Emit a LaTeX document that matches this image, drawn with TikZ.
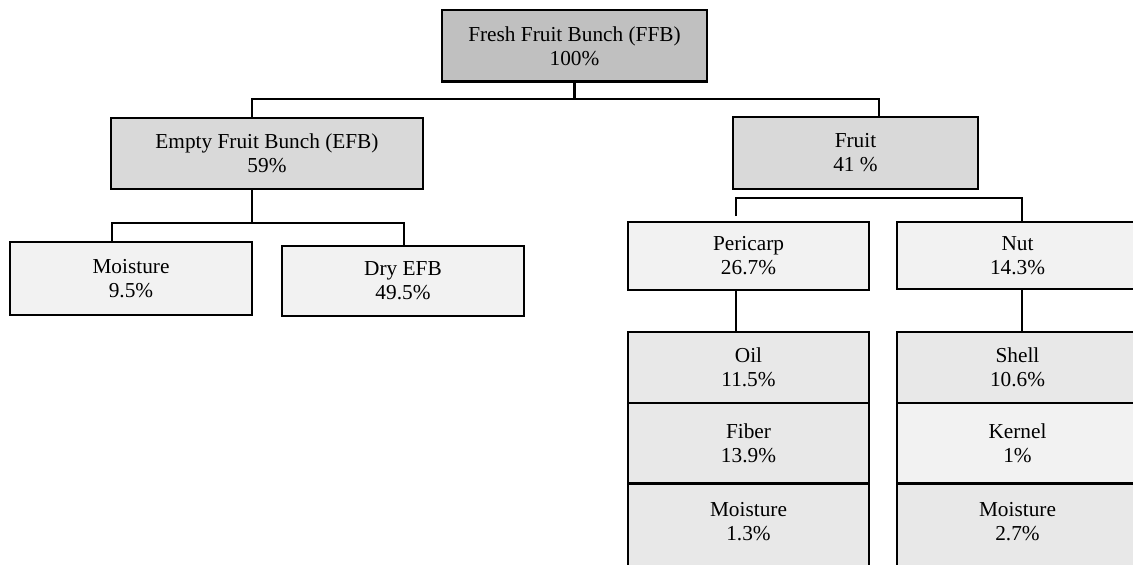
\documentclass[tikz,border=0pt]{standalone}
\usepackage{fontspec}
\setmainfont{Liberation Serif}
\definecolor{gA}{HTML}{C0C0C0}
\definecolor{gB}{HTML}{D9D9D9}
\definecolor{gC}{HTML}{F2F2F2}
\definecolor{gD}{HTML}{E8E8E8}
\begin{document}
\begin{tikzpicture}[x=1pt,y=-1pt,
  box/.style={draw=black, line width=2.2pt, inner sep=0pt, align=center,
    font=\fontsize{21.3}{24}\selectfont},
  txt/.style={inner sep=0pt, align=center, font=\fontsize{21.3}{24}\selectfont},
  conn/.style={draw=black, line width=2.2pt}]
\useasboundingbox (0,0) rectangle (1133,565);
\clip (0,0) rectangle (1133,565);
\fill[white] (0,0) rectangle (1133,565);
% boxes
\node[box, fill=gA, minimum width=265pt, minimum height=71.5pt] (ffb) at (574.5,45.75) {Fresh Fruit Bunch (FFB)\\100\%};
\node[box, fill=gB, minimum width=312pt, minimum height=71pt] (efb) at (267,153.5) {Empty Fruit Bunch (EFB)\\59\%};
\node[box, fill=gB, minimum width=245pt, minimum height=72pt] (fruit) at (855.5,153) {Fruit\\41 \%};
\node[box, fill=gC, minimum width=242pt, minimum height=73pt] (mo) at (131,278.5) {Moisture\\9.5\%};
\node[box, fill=gC, minimum width=242pt, minimum height=70pt] (dry) at (403,281) {Dry EFB\\49.5\%};
\node[box, fill=gC, minimum width=241pt, minimum height=68pt] (per) at (748.5,256) {Pericarp\\26.7\%};
\node[box, fill=gC, minimum width=241pt, minimum height=67pt] (nut) at (1017.5,255.5) {Nut\\14.3\%};
% pericarp stack
\node[box, fill=gD, minimum width=241pt, minimum height=120pt, anchor=north] (pm) at (748.5,483) {};
\node[txt] (pmt) at (748.5,521.5) {Moisture\\1.3\%};
\node[box, fill=gD, minimum width=241pt, minimum height=80pt] (fib) at (748.5,443) {Fiber\\13.9\%};
\node[box, fill=gD, minimum width=241pt, minimum height=71pt] (oil) at (748.5,367.5) {Oil\\11.5\%};
% nut stack
\node[box, fill=gD, minimum width=241pt, minimum height=120pt, anchor=north] (nm) at (1017.5,483) {};
\node[txt] (nmt) at (1017.5,521.5) {Moisture\\2.7\%};
\node[box, fill=gC, minimum width=241pt, minimum height=80pt] (ker) at (1017.5,443) {Kernel\\1\%};
\node[box, fill=gD, minimum width=241pt, minimum height=71pt] (shell) at (1017.5,367.5) {Shell\\10.6\%};
% junction coordinates
\coordinate (j1) at (574.5,99);
\coordinate (a1) at (252,99);
\coordinate (a2) at (879,99);
\coordinate (b0) at (252,223);
\coordinate (b1) at (112,223);
\coordinate (b2) at (404,223);
\coordinate (c1) at (736,198);
\coordinate (c2) at (1022,198);
\coordinate (c1e) at (736,216);
% connectors
\draw[conn] (ffb.south) -- (j1);
\draw[conn] (a1 |- efb.north) -- (a1) -- (a2) -- (a2 |- fruit.north);
\draw[conn] (b0 |- efb.south) -- (b0);
\draw[conn] (b1 |- mo.north) -- (b1) -- (b2) -- (b2 |- dry.north);
\draw[conn] (c1e) -- (c1) -- (c2) -- (c2 |- nut.north);
\draw[conn] (c1 |- per.south) -- (c1 |- oil.north);
\draw[conn] (c2 |- nut.south) -- (c2 |- shell.north);
\end{tikzpicture}
\end{document}
